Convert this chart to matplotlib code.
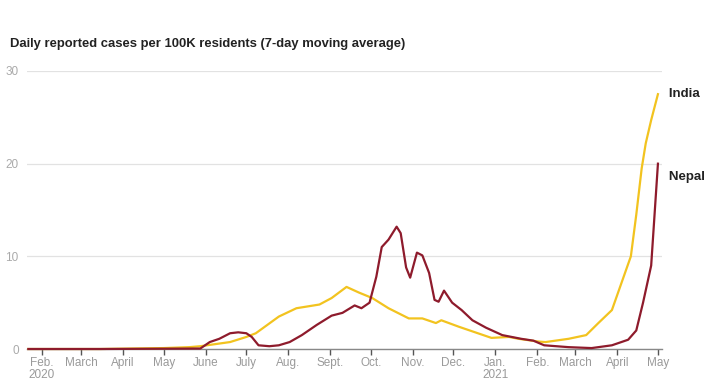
import matplotlib.pyplot as plt
import pandas as pd

plt.rcParams['font.family'] = ['Liberation Sans', 'DejaVu Sans']

# India, 7-day avg cases per 100K
india_dates = ['2020-01-22', '2020-03-15', '2020-05-01', '2020-05-20', '2020-05-28',
               '2020-06-19', '2020-07-01', '2020-07-08', '2020-07-25', '2020-08-07',
               '2020-08-24', '2020-09-02', '2020-09-13', '2020-09-22', '2020-10-02',
               '2020-10-14', '2020-10-29', '2020-11-08', '2020-11-18', '2020-11-22',
               '2020-12-05', '2020-12-17', '2020-12-29', '2021-01-11', '2021-01-18',
               '2021-02-02', '2021-02-07', '2021-02-24', '2021-03-09', '2021-03-18',
               '2021-03-28', '2021-04-04', '2021-04-11', '2021-04-15', '2021-04-19',
               '2021-04-22', '2021-04-26', '2021-05-01']
india_vals = [0, 0, 0.1, 0.2, 0.3,
              0.75, 1.3, 1.7, 3.5, 4.4,
              4.8, 5.5, 6.7, 6.1, 5.5,
              4.4, 3.3, 3.3, 2.8, 3.1,
              2.4, 1.8, 1.2, 1.3, 1.1,
              0.8, 0.75, 1.1, 1.5, 2.8,
              4.2, 7.1, 10.0, 14.5, 19.5,
              22.2, 24.7, 27.5]

# Nepal
nepal_dates = ['2020-01-22', '2020-03-15', '2020-05-28', '2020-06-04', '2020-06-11',
               '2020-06-19', '2020-06-25', '2020-07-01', '2020-07-05', '2020-07-10',
               '2020-07-18', '2020-07-25', '2020-08-02', '2020-08-11', '2020-08-22',
               '2020-09-02', '2020-09-10', '2020-09-19', '2020-09-24', '2020-09-30',
               '2020-10-05', '2020-10-09', '2020-10-14', '2020-10-20', '2020-10-23',
               '2020-10-27', '2020-10-30', '2020-11-04', '2020-11-08', '2020-11-13',
               '2020-11-17', '2020-11-20', '2020-11-24', '2020-11-30', '2020-12-07',
               '2020-12-15', '2020-12-25', '2021-01-06', '2021-01-20', '2021-01-29',
               '2021-02-06', '2021-02-24', '2021-03-13', '2021-03-28', '2021-04-09',
               '2021-04-15', '2021-04-20', '2021-04-26', '2021-05-01']
nepal_vals = [0, 0, 0.05, 0.75, 1.1,
              1.7, 1.8, 1.7, 1.3, 0.4,
              0.3, 0.4, 0.75, 1.5, 2.6,
              3.6, 3.9, 4.7, 4.4, 5.0,
              7.8, 11.0, 11.8, 13.2, 12.5,
              8.8, 7.7, 10.4, 10.1, 8.2,
              5.3, 5.1, 6.3, 5.0, 4.2,
              3.1, 2.3, 1.5, 1.1, 0.9,
              0.4, 0.2, 0.1, 0.4, 1.0,
              2.0, 5.0, 9.0, 20.0]

month_labels = ['Feb.\n2020', 'March', 'April', 'May', 'June', 'July', 'Aug.', 'Sept.',
                'Oct.', 'Nov.', 'Dec.', 'Jan.\n2021', 'Feb.', 'March', 'April', 'May']

fig = plt.figure(figsize=(7.2, 3.8), dpi=100)
ax = fig.add_axes([27/720, 31/380, (662-27)/720, (349-71)/380])

india = pd.Series(india_vals, index=pd.to_datetime(india_dates))
nepal = pd.Series(nepal_vals, index=pd.to_datetime(nepal_dates))

ax.plot(india.index, india.values, color='#f2c31f', lw=1.6, clip_on=False, zorder=3)
ax.plot(nepal.index, nepal.values, color='#8e1b2c', lw=1.6, clip_on=False, zorder=4)

ax.set_xlim(pd.Timestamp('2020-01-21'), pd.Timestamp('2021-05-04'))
ax.set_ylim(0, 30)

ticks = pd.date_range('2020-02-01', '2021-05-01', freq='MS')
ax.set_xticks(ticks)
ax.set_xticklabels(month_labels, color='#9a9a9a', fontsize=8.5, linespacing=0.95)
ax.tick_params(axis='x', length=4, width=1, color='#555555', pad=2)

ax.set_yticks([0, 10, 20, 30])
ax.set_yticklabels(['0', '10', '20', '30'], color='#aaaaaa', fontsize=8.5)
ax.tick_params(axis='y', length=0, pad=6)
ax.grid(axis='y', color='#e2e2e2', lw=0.9)
ax.set_axisbelow(True)

for s in ['top', 'right', 'left']:
    ax.spines[s].set_visible(False)
ax.spines['bottom'].set_color('#888888')
ax.spines['bottom'].set_linewidth(1)

ax.text(india.index[-1], india.values[-1], '   India', fontsize=9.5, fontweight='bold',
        va='center', ha='left', color='#222222')
ax.text(nepal.index[-1], nepal.values[-1] - 1.4, '   Nepal', fontsize=9.5, fontweight='bold',
        va='center', ha='left', color='#222222')

fig.text(10/720, 1 - 44/380, 'Daily reported cases per 100K residents (7-day moving average)',
         fontsize=9.4, fontweight='bold', va='center', ha='left', color='#222222')

fig.savefig('out.png', dpi=100)
